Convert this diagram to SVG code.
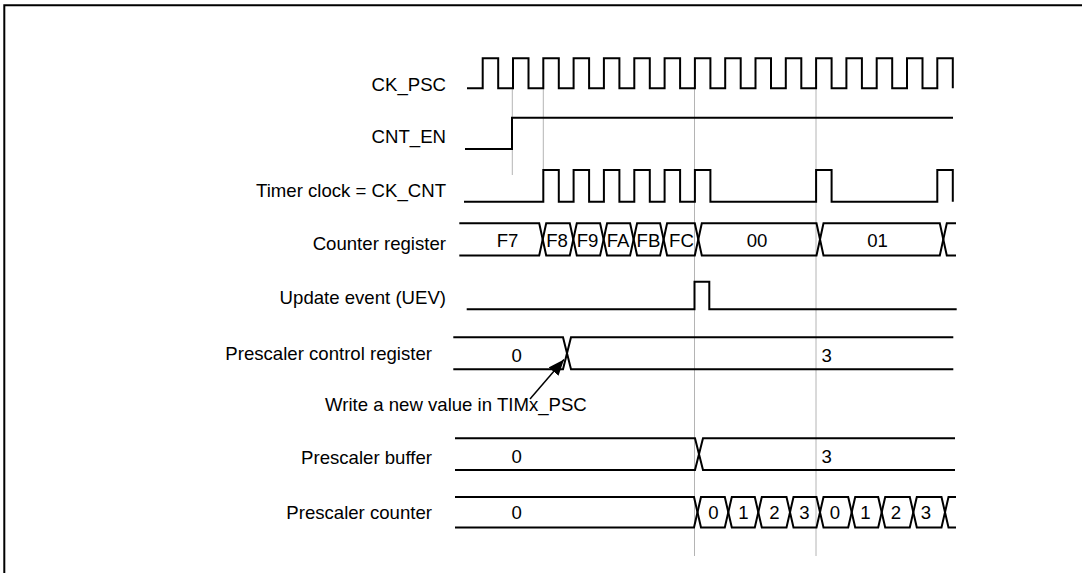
<svg xmlns="http://www.w3.org/2000/svg" width="1082" height="573" viewBox="0 0 1082 573">
<defs>
<style>
.sig{fill:none;stroke:#000;stroke-width:2;stroke-linejoin:miter}
.grid{fill:none;stroke:#b4b4b4;stroke-width:1}
.lbl{font-family:"Liberation Sans",Arial,Helvetica,sans-serif;font-size:18.6px;fill:#000}
.r{text-anchor:end}
.m{text-anchor:middle}
.frame{fill:none;stroke:#000;stroke-width:2}
</style>
<marker id="ah" markerUnits="userSpaceOnUse" markerWidth="17" markerHeight="13" refX="16" refY="6.5" orient="auto">
<path d="M0,0 L16,6.5 L0,13 Z" fill="#000"/>
</marker>
</defs>
<rect width="1082" height="573" fill="#fff"/>
<path class="frame" d="M4.3,573 V5.2 H1082"/>

<g id="connectors">
<line class="grid" x1="512.3" y1="88" x2="512.3" y2="175"/>
<line class="grid" x1="543.3" y1="88" x2="543.3" y2="170"/>
<line class="grid" x1="694.5" y1="88" x2="694.5" y2="556"/>
<line class="grid" x1="816" y1="88" x2="816" y2="556"/>
<line x1="530" y1="399" x2="564" y2="359.5" stroke="#000" stroke-width="1.5" marker-end="url(#ah)"/>
</g>

<g id="ck_psc">
<text class="lbl r" x="446" y="90.7">CK_PSC</text>
<path class="sig" d="M467,88.3 H482.7 V58.3 H498.2 V88.3 H513 V58.3 H528.5 V88.3 H543.3 V58.3 H558.8 V88.3 H573.6 V58.3 H589.1 V88.3 H603.9 V58.3 H619.4 V88.3 H634.3 V58.3 H649.8 V88.3 H664.6 V58.3 H680.1 V88.3 H694.9 V58.3 H710.4 V88.3 H725.2 V58.3 H740.7 V88.3 H755.5 V58.3 H771 V88.3 H785.8 V58.3 H801.3 V88.3 H816.1 V58.3 H831.6 V88.3 H846.4 V58.3 H861.9 V88.3 H876.7 V58.3 H892.2 V88.3 H907 V58.3 H922.5 V88.3 H937.3 V58.3 H952.8 V88.3"/>
</g>

<g id="cnt_en">
<text class="lbl r" x="446" y="143.3">CNT_EN</text>
<path class="sig" d="M465,149 H512 V117.7 H953"/>
</g>

<g id="ck_cnt">
<text class="lbl r" x="446" y="196.7">Timer clock = CK_CNT</text>
<path class="sig" d="M464,201.7 H543.3 V170 H558.8 V201.7 H573.6 V170 H589.1 V201.7 H603.9 V170 H619.4 V201.7 H634.3 V170 H649.8 V201.7 H664.6 V170 H680.1 V201.7 H694.9 V170 H710.4 V201.7 H816.1 V170 H831.6 V201.7 H937.3 V170 H952.8 V201.7"/>
</g>

<g id="counter_register">
<text class="lbl r" x="446" y="249.5">Counter register</text>
<path class="sig" d="M459.3,223.3 H539.2 L546.2,255.5 H569.8 L576.8,223.3 H600.1 L607.1,255.5 H630.1 L637.1,223.3 H660.1 L667.1,255.5 H694.8 L701.8,223.3 H816.5 L823.5,255.5 H939.8 L946.8,223.3 H956"/>
<path class="sig" d="M459.3,255.5 H539.2 L546.2,223.3 H569.8 L576.8,255.5 H600.1 L607.1,223.3 H630.1 L637.1,255.5 H660.1 L667.1,223.3 H694.8 L701.8,255.5 H816.5 L823.5,223.3 H939.8 L946.8,255.5 H956"/>
<text class="lbl m" x="507.5" y="247">F7</text>
<text class="lbl m" x="557" y="247">F8</text>
<text class="lbl m" x="587.5" y="247">F9</text>
<text class="lbl m" x="618" y="247">FA</text>
<text class="lbl m" x="648.5" y="247">FB</text>
<text class="lbl m" x="681.5" y="247">FC</text>
<text class="lbl m" x="757" y="247">00</text>
<text class="lbl m" x="877.5" y="247">01</text>
</g>

<g id="update_event">
<text class="lbl r" x="446" y="303.5">Update event (UEV)</text>
<path class="sig" d="M466.7,309.3 H694.5 V281.7 H709.3 V309.3 H956.7"/>
</g>

<g id="prescaler_control">
<text class="lbl r" x="432" y="359.5">Prescaler control register</text>
<path class="sig" d="M453.3,337.3 H563 L571,369.3 H953.3"/>
<path class="sig" d="M453.3,369.3 H563 L571,337.3 H953.3"/>
<text class="lbl m" x="516.7" y="361.5">0</text>
<text class="lbl m" x="826.7" y="361.5">3</text>
</g>

<g id="write_note">
<text class="lbl" x="325" y="411">Write a new value in TIMx_PSC</text>
</g>

<g id="prescaler_buffer">
<text class="lbl r" x="432" y="464">Prescaler buffer</text>
<path class="sig" d="M455,438.3 H695 L703,470 H955"/>
<path class="sig" d="M455,470 H695 L703,438.3 H955"/>
<text class="lbl m" x="516.7" y="463">0</text>
<text class="lbl m" x="826.7" y="463">3</text>
</g>

<g id="prescaler_counter">
<text class="lbl r" x="432" y="518.5">Prescaler counter</text>
<path class="sig" d="M455,497 H694 L701,527.5 H724.8 L731.8,497 H754.8 L761.8,527.5 H786.5 L793.5,497 H816.5 L823.5,527.5 H848.2 L855.2,497 H878.2 L885.2,527.5 H909.8 L916.8,497 H941.5 L948.5,527.5 H956"/>
<path class="sig" d="M455,527.5 H694 L701,497 H724.8 L731.8,527.5 H754.8 L761.8,497 H786.5 L793.5,527.5 H816.5 L823.5,497 H848.2 L855.2,527.5 H878.2 L885.2,497 H909.8 L916.8,527.5 H941.5 L948.5,497 H956"/>
<text class="lbl m" x="516.7" y="519">0</text>
<text class="lbl m" x="713.3" y="519">0</text>
<text class="lbl m" x="743.3" y="519">1</text>
<text class="lbl m" x="774.3" y="519">2</text>
<text class="lbl m" x="804.5" y="519">3</text>
<text class="lbl m" x="835" y="519">0</text>
<text class="lbl m" x="865.5" y="519">1</text>
<text class="lbl m" x="896" y="519">2</text>
<text class="lbl m" x="926" y="519">3</text>
</g>
</svg>
